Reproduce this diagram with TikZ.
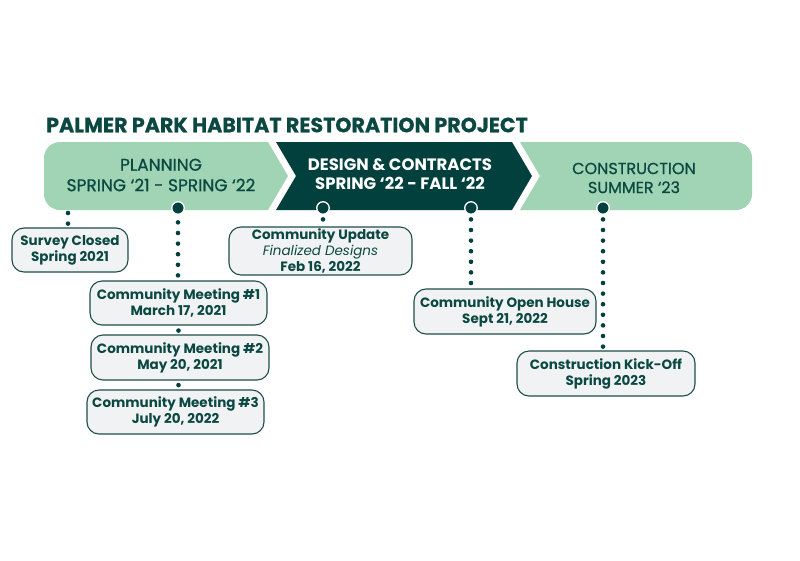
\documentclass[tikz,border=0pt]{standalone}
\usepackage{fontspec}
\setmainfont{Poppins}
\definecolor{lightgreen}{HTML}{A0D4B4}
\definecolor{darkteal}{HTML}{02403D}
\definecolor{ink}{HTML}{0B4842}
\definecolor{boxfill}{HTML}{F1F2F4}
\definecolor{boxline}{HTML}{1E4E49}
\begin{document}
\begin{tikzpicture}[x=1pt,y=-1pt,
  eventbox/.style={draw=boxline, fill=boxfill, line width=1.1pt, rounded corners=12pt,
    align=center, font=\bfseries\fontsize{13.5}{16}\selectfont, text=ink, inner sep=0pt},
  marker/.style={circle, fill=darkteal, draw=white, line width=1.3pt, minimum size=12.5pt, inner sep=0pt},
  dotline/.style={draw=darkteal, line width=4.6pt, line cap=round, dash pattern=on 0pt off 10.6pt},
  phase/.style={align=center, inner sep=0pt}
]
\useasboundingbox (0,0) rectangle (800,560);
\fill[white] (0,0) rectangle (800,560);

% title
\node[anchor=west, inner sep=0pt, text=ink, font=\bfseries\fontsize{20.6}{24}\selectfont\addfontfeatures{FakeBold=0.6}] (title) at (46,125) {PALMER PARK HABITAT RESTORATION PROJECT};

% banner
\begin{scope}
  \clip (0,142) -- (268,142) -- (288,176) -- (268,210) -- (0,210) -- cycle;
  \fill[lightgreen, rounded corners=16pt] (44,142) rectangle (320,210);
\end{scope}
\fill[darkteal] (276,142) -- (512,142) -- (532,176) -- (512,210) -- (276,210) -- (296,176) -- cycle;
\begin{scope}
  \clip (520,142) -- (540,176) -- (520,210) -- (800,210) -- (800,142) -- cycle;
  \fill[lightgreen, rounded corners=16pt] (480,142) rectangle (752,210);
\end{scope}

\node[phase, text=ink, font=\fontsize{17}{20.5}\selectfont\addfontfeatures{FakeBold=0.8}] (planning) at (161,175) {PLANNING\\SPRING ‘21 - SPRING ‘22};
\node[phase, text=white, font=\bfseries\fontsize{16.5}{19.5}\selectfont] (design) at (400,174) {DESIGN \& CONTRACTS\\SPRING ‘22 - FALL ‘22};
\node[phase, text=ink, font=\fontsize{16}{19}\selectfont\addfontfeatures{FakeBold=0.8}] (construction) at (634,178) {CONSTRUCTION\\SUMMER ‘23};

% markers
\node[marker] (m1) at (178,208) {};
\node[marker] (m2) at (323,208) {};
\node[marker] (m3) at (471,208) {};
\node[marker] (m4) at (603,208) {};
\coordinate (s0) at (68,210);

% event boxes
\node[eventbox, minimum width=116pt, minimum height=44pt] (survey) at (70,250) {Survey Closed\\Spring 2021};
\node[eventbox, minimum width=177pt, minimum height=44pt] (cm1) at (178.5,303) {Community Meeting \#1\\March 17, 2021};
\node[eventbox, minimum width=178pt, minimum height=45pt] (cm2) at (180,357.5) {Community Meeting \#2\\May 20, 2021};
\node[eventbox, minimum width=177pt, minimum height=44pt] (cm3) at (175.5,412) {Community Meeting \#3\\July 20, 2022};
\node[eventbox, minimum width=183pt, minimum height=48pt] (update) at (320.5,251) {Community Update\\{\mdseries\itshape Finalized Designs}\\Feb 16, 2022};
\node[eventbox, minimum width=182pt, minimum height=45pt] (openhouse) at (505,311.5) {Community Open House\\Sept 21, 2022};
\node[eventbox, minimum width=178pt, minimum height=45pt] (kickoff) at (606,373.5) {Construction Kick-Off\\Spring 2023};

% connectors
\draw[dotline, shorten <=3pt, shorten >=2pt] (s0) -- (s0 |- survey.north);
\draw[dotline, shorten <=7.5pt, shorten >=3pt] (m1) -- (m1 |- cm1.north);
\draw[dotline, shorten <=5pt, shorten >=3pt] (cm1.south) -- (cm1.south |- cm2.north);
\draw[dotline, shorten <=4.5pt, shorten >=3pt] (cm2.south -| cm1.south) -- (cm1.south |- cm3.north);
\draw[dotline, shorten <=4.5pt, shorten >=5pt] (m2) -- (m2 |- update.north);
\draw[dotline, shorten <=4.5pt, shorten >=5pt] (m3) -- (m3 |- openhouse.north);
\draw[dotline, shorten <=4.5pt, shorten >=3pt] (m4) -- (m4 |- kickoff.north);
\end{tikzpicture}
\end{document}
